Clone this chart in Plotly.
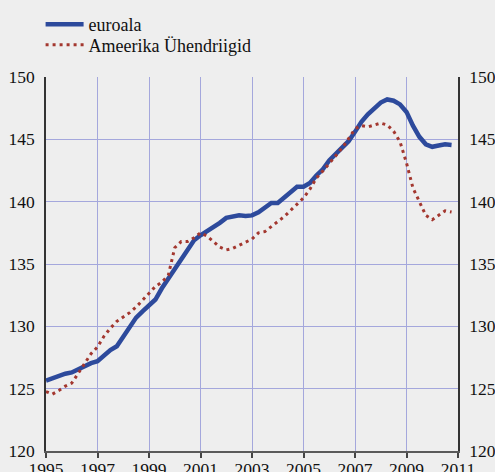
import plotly.graph_objects as go

# Quarterly index values, 1995Q1 .. 2010Q4
quarters = [1995 + i * 0.25 for i in range(64)]

euroala = [
    125.65, 125.85, 126.05, 126.2, 126.3, 126.55, 126.85, 127.05,
    127.2, 127.65, 128.1, 128.4, 129.2, 130.0, 130.7, 131.2,
    131.7, 132.15, 133.05, 133.8, 134.7, 135.4, 136.2, 136.9,
    137.3, 137.6, 138.0, 138.3, 138.7, 138.8, 138.9, 138.85,
    138.9, 139.15, 139.5, 139.9, 139.9, 140.3, 140.7, 141.2,
    141.2, 141.5, 142.1, 142.6, 143.3, 143.8, 144.3, 144.85,
    145.6, 146.4, 147.0, 147.5, 147.95, 148.2, 148.1, 147.8,
    147.2, 146.1, 145.2, 144.6, 144.4, 144.5, 144.6, 144.55,
]

usa = [
    124.77, 124.56, 124.85, 125.2, 125.44, 126.2, 127.05, 127.8,
    128.35, 129.2, 129.85, 130.4, 130.75, 131.1, 131.55, 132.1,
    132.7, 133.2, 133.55, 134.1, 136.3, 136.8, 136.8, 137.1,
    137.5, 137.25, 136.8, 136.35, 136.13, 136.25, 136.5, 136.75,
    137.0, 137.5, 137.6, 138.0, 138.38, 138.8, 139.3, 139.8,
    140.3, 141.0, 141.9, 142.45, 143.05, 143.7, 144.3, 145.05,
    145.85, 146.1, 146.0, 146.15, 146.3, 146.15, 145.65, 144.8,
    143.1, 141.1, 139.95, 138.9, 138.55, 138.93, 139.27, 139.17,
]

x_ticks = list(range(1995, 2012, 2))
y_ticks = list(range(120, 151, 5))

series_names = ["euroala", "Ameerika Ühendriigid"]

BG = "#eeeeee"
GRID = "#a4a7dc"
SERIF = "Liberation Serif, Times New Roman, serif"
FONT = dict(family=SERIF, size=17.5, color="#111111")
LEGEND_FONT = dict(family=SERIF, size=18, color="#111111")

fig = go.Figure()
fig.add_trace(go.Scatter(
    x=quarters, y=euroala, name=series_names[0], mode="lines",
    line=dict(color="#2d4a9c", width=4.5), legend="legend",
))
fig.add_trace(go.Scatter(
    x=quarters, y=usa, name=series_names[1], mode="lines",
    line=dict(color="#a3372f", width=3, dash="3px,4px"), legend="legend2",
))
# carrier for the right-hand value axis
fig.add_trace(go.Scatter(
    x=[quarters[0]], y=[euroala[0]], yaxis="y2", mode="lines",
    showlegend=False, hoverinfo="skip", line=dict(width=0),
))

legend_common = dict(
    xref="container", yref="container", x=0.082,
    xanchor="left", yanchor="top", bgcolor="rgba(0,0,0,0)",
    font=LEGEND_FONT, itemwidth=38,
)

fig.update_layout(
    width=495, height=472,
    margin=dict(l=46, r=37, t=77, b=21, autoexpand=False),
    paper_bgcolor=BG, plot_bgcolor=BG,
    font=FONT,
    showlegend=True,
    legend=dict(y=0.9870, **legend_common),
    legend2=dict(y=0.9440, **legend_common),
    xaxis=dict(
        range=[1995, 2011], tickvals=x_ticks, tickangle=0, automargin=False,
        showgrid=True, gridcolor=GRID, gridwidth=1,
        showline=True, linecolor="#5a5a5a", linewidth=2,
        ticks="outside", ticklen=5, tickwidth=2, tickcolor="#444444",
        zeroline=False, tickfont=FONT, ticklabelstandoff=-4,
    ),
    yaxis=dict(
        range=[120, 150], tickvals=y_ticks, automargin=False,
        showgrid=True, gridcolor=GRID, gridwidth=1,
        showline=True, linecolor="#333333", linewidth=1.5,
        ticks="", zeroline=False, tickfont=FONT, ticklabelstandoff=6,
    ),
    yaxis2=dict(
        range=[120, 150], tickvals=y_ticks, overlaying="y", side="right",
        automargin=False,
        showgrid=False, showline=True, linecolor="#333333", linewidth=1.5,
        ticks="", zeroline=False, tickfont=FONT, ticklabelstandoff=6,
    ),
)

fig.write_html("out.html")
